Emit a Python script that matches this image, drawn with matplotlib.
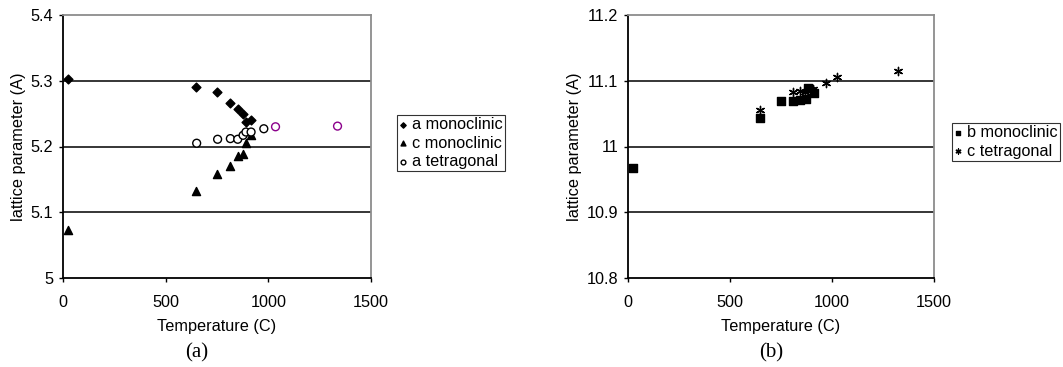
import numpy as np
import matplotlib
matplotlib.use("Agg")
import matplotlib.pyplot as plt

plt.rcParams['font.family'] = ['Liberation Sans', 'DejaVu Sans']

# (a) a and c of the monoclinic phase, a of the tetragonal phase
T_mono = [23, 650, 751, 813, 850, 876, 889, 915]
a_mono = [5.302, 5.290, 5.283, 5.266, 5.257, 5.249, 5.238, 5.241]
c_mono = [5.073, 5.132, 5.158, 5.170, 5.185, 5.188, 5.205, 5.217]

T_tet = [651, 753, 815, 851, 877, 891, 916, 978, 1035, 1337]
a_tet = [5.205, 5.211, 5.212, 5.211, 5.217, 5.222, 5.222, 5.227, 5.230, 5.231]

# (b) b of monoclinic, c of tetragonal
T_bmono = [25, 648, 750, 810, 844, 873, 882, 910]
b_mono = [10.968, 11.043, 11.069, 11.069, 11.071, 11.072, 11.089, 11.081]

T_ctet = [646, 808, 841, 868, 890, 907, 969, 1026, 1325]
c_tet = [11.056, 11.083, 11.085, 11.083, 11.088, 11.088, 11.096, 11.106, 11.115]

fig = plt.figure(figsize=(10.63, 3.67), dpi=100)
ax1 = fig.add_axes([63/1063, 1 - 278/367, 308/1063, 263/367])
ax2 = fig.add_axes([628/1063, 1 - 278/367, 306/1063, 263/367])

FS = 11.7


def style(ax, ylim, yticks, ylabels):
    ax.set_xlim(0, 1500)
    ax.set_ylim(*ylim)
    ax.set_xticks([0, 500, 1000, 1500])
    ax.set_yticks(yticks)
    ax.set_yticklabels(ylabels)
    for y in yticks[1:-1]:
        ax.axhline(y, color="black", lw=1.1, zorder=1)
    ax.spines["left"].set_color("black")
    ax.spines["bottom"].set_color("black")
    ax.spines["top"].set_color("#8c8c8c")
    ax.spines["right"].set_color("#8c8c8c")
    for s in ax.spines.values():
        s.set_linewidth(1.3)
    ax.tick_params(direction="out", length=3, width=1, labelsize=FS, pad=4)
    ax.tick_params(axis="x", pad=9)
    ax.set_xlabel("Temperature (C)", fontsize=FS, labelpad=7)
    ax.set_ylabel("lattice parameter (A)", fontsize=FS, labelpad=3)


style(ax1, (5.0, 5.4), [5.0, 5.1, 5.2, 5.3, 5.4], ["5", "5.1", "5.2", "5.3", "5.4"])
style(ax2, (10.8, 11.2), [10.8, 10.9, 11.0, 11.1, 11.2], ["10.8", "10.9", "11", "11.1", "11.2"])

tet_colors = ["black"] * (len(T_tet) - 2) + ["#8b008b"] * 2
ax1.scatter(T_mono, a_mono, marker="D", s=20, color="black", label="a monoclinic", zorder=3)
ax1.scatter(T_mono, c_mono, marker="^", s=34, color="black", label="c monoclinic", zorder=3)
ax1.scatter(T_tet, a_tet, marker="o", s=32, facecolors="white", edgecolors=tet_colors,
            linewidths=1, label="a tetragonal", zorder=3)
leg1 = ax1.legend(loc="upper left", bbox_to_anchor=(1.085, 0.62), fontsize=FS, frameon=True,
                  fancybox=False, edgecolor="black", handlelength=0.45, handletextpad=0.3,
                  borderpad=0.15, labelspacing=0.2, markerscale=0.6, borderaxespad=0)
leg1.get_frame().set_linewidth(0.8)
leg1.legend_handles[2].set_edgecolor("black")

ax2.scatter(T_bmono, b_mono, marker="s", s=32, color="black", label="b monoclinic", zorder=3)
ax2.scatter(T_ctet, c_tet, marker=(6, 2, 0), s=35, color="black", linewidths=1,
            label="c tetragonal", zorder=3)
leg2 = ax2.legend(loc="upper left", bbox_to_anchor=(1.06, 0.59), fontsize=FS, frameon=True,
                  fancybox=False, edgecolor="black", handlelength=0.45, handletextpad=0.3,
                  borderpad=0.15, labelspacing=0.2, markerscale=0.6, borderaxespad=0)
leg2.get_frame().set_linewidth(0.8)

fig.text(197/1063, 1 - 353/367, "(a)", family="Liberation Serif", fontsize=15,
         ha="center", va="center")
fig.text(771/1063, 1 - 353/367, "(b)", family="Liberation Serif", fontsize=15,
         ha="center", va="center")

fig.savefig("out.png", dpi=100)
